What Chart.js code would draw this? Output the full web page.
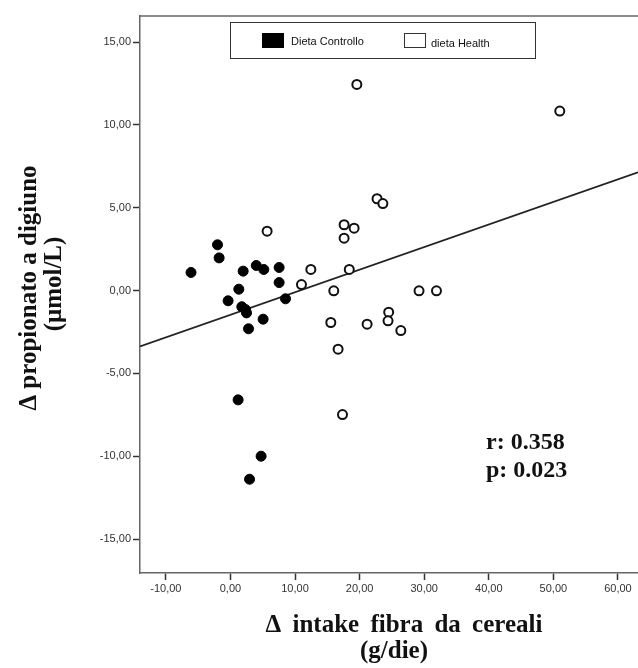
<!DOCTYPE html>
<html lang="it">
<head>
<meta charset="UTF-8">
<title>Propionato vs fibra</title>
<script src="https://cdn.jsdelivr.net/npm/chart.js@4"></script>
<style>
  body { margin: 0; background: #fff; }
  canvas { display: block; }
</style>
</head>
<body>
<canvas id="grafico" width="638" height="668"></canvas>
<script>
// valori
const serie = ['Dieta Controllo', 'dieta Health'];
const controlloX = [-6.1, -2.0, -1.75, 1.97, 4.0, 5.17, 7.54, 7.54, 1.3, -0.36, 8.53, 1.76, 2.33, 2.49, 5.06, 2.8, 1.19, 4.75, 2.96];
const controlloY = [1.09, 2.76, 1.97, 1.17, 1.51, 1.27, 1.39, 0.48, 0.08, -0.62, -0.5, -0.98, -1.15, -1.35, -1.73, -2.31, -6.6, -10.0, -11.39];
const healthX = [19.57, 50.99, 22.7, 23.6, 17.6, 19.15, 17.6, 12.45, 18.4, 11.0, 16.0, 29.2, 31.9, 24.5, 24.4, 15.54, 21.16, 26.38, 16.67, 17.35, 5.68];
const healthY = [12.44, 10.83, 5.54, 5.25, 3.97, 3.76, 3.16, 1.27, 1.27, 0.36, -0.02, -0.02, -0.02, -1.31, -1.83, -1.93, -2.03, -2.42, -3.54, -7.49, 3.58];
const rettaX = [-14.0, 63.1];
const rettaY = [-3.37, 7.14];
const xTicks = [-10, 0, 10, 20, 30, 40, 50, 60];
const yTicks = [-15, -10, -5, 0, 5, 10, 15];
const statistiche = ['r: 0.358', 'p: 0.023'];
const titoloX = ['\u0394 intake fibra da cereali', '(g/die)'];
const titoloY = ['\u0394 propionato a digiuno', '(\u03bcmol/L)'];

const punti = (xs, ys) => xs.map((x, i) => ({ x: x, y: ys[i] }));
const virgola = v => v.toFixed(2).replace('.', ',');

const testi = {
  id: 'testi',
  afterDraw(chart) {
    const ctx = chart.ctx;
    const area = chart.chartArea;
    ctx.save();

    // bordo superiore del riquadro
    ctx.strokeStyle = '#666';
    ctx.lineWidth = 1.5;
    ctx.beginPath();
    ctx.moveTo(area.left, area.top);
    ctx.lineTo(chart.width, area.top);
    ctx.stroke();

    // legenda
    ctx.fillStyle = '#fff';
    ctx.fillRect(230.5, 22.5, 305, 36);
    ctx.strokeStyle = '#333';
    ctx.lineWidth = 1;
    ctx.strokeRect(230.5, 22.5, 305, 36);
    ctx.fillStyle = '#000';
    ctx.fillRect(262, 33, 22, 15);
    ctx.strokeRect(404.5, 33.5, 21, 14);
    ctx.font = '11px "Liberation Sans", Arial, sans-serif';
    ctx.textBaseline = 'alphabetic';
    ctx.textAlign = 'left';
    ctx.fillStyle = '#111';
    ctx.fillText(serie[0], 291, 45);
    ctx.fillText(serie[1], 431, 47);

    // r e p
    ctx.font = 'bold 24px "Liberation Serif", "Times New Roman", serif';
    ctx.fillStyle = '#111';
    ctx.fillText(statistiche[0], 486, 449);
    ctx.fillText(statistiche[1], 486, 477);

    // titoli degli assi
    ctx.font = 'bold 25px "Liberation Serif", "Times New Roman", serif';
    ctx.textAlign = 'center';
    ctx.wordSpacing = '5px';
    ctx.fillText(titoloX[0], 404, 632);
    ctx.wordSpacing = '0px';
    ctx.fillText(titoloX[1], 394, 658);

    ctx.translate(0, 288);
    ctx.rotate(-Math.PI / 2);
    ctx.fillText(titoloY[0], 0, 36);
    ctx.fillText(titoloY[1], 4, 61);
    ctx.restore();
  }
};

new Chart(document.getElementById('grafico'), {
  type: 'scatter',
  data: {
    datasets: [
      {
        label: serie[0],
        data: punti(controlloX, controlloY),
        backgroundColor: '#000',
        borderColor: '#000',
        borderWidth: 1,
        pointRadius: 5,
        order: 1
      },
      {
        label: serie[1],
        data: punti(healthX, healthY),
        backgroundColor: '#fff',
        borderColor: '#111',
        borderWidth: 2,
        pointRadius: 4.5,
        order: 2
      },
      {
        type: 'line',
        label: 'retta',
        data: punti(rettaX, rettaY),
        borderColor: '#222',
        borderWidth: 1.8,
        pointRadius: 0,
        fill: false,
        order: 3
      }
    ]
  },
  options: {
    responsive: false,
    animation: false,
    layout: { autoPadding: false, padding: { top: 16, left: 0, right: 0, bottom: 0 } },
    plugins: {
      legend: { display: false },
      tooltip: { enabled: false }
    },
    scales: {
      x: {
        type: 'linear',
        min: -14.0,
        max: 63.1,
        afterFit: s => { s.height = 95; },
        afterBuildTicks: s => { s.ticks = xTicks.map(v => ({ value: v })); },
        border: { color: '#666', width: 1.5 },
        grid: { drawOnChartArea: false, tickLength: 7, tickColor: '#333', tickWidth: 1.5 },
        ticks: {
          padding: 2,
          color: '#333',
          font: { family: '"Liberation Sans", Arial, sans-serif', size: 11 },
          callback: v => virgola(v)
        }
      },
      y: {
        type: 'linear',
        min: -17.05,
        max: 16.57,
        afterFit: s => { s.width = 140; },
        afterBuildTicks: s => { s.ticks = yTicks.map(v => ({ value: v })); },
        border: { color: '#666', width: 1.5 },
        grid: { drawOnChartArea: false, tickLength: 7, tickColor: '#333', tickWidth: 1.5 },
        ticks: {
          padding: 2,
          color: '#333',
          font: { family: '"Liberation Sans", Arial, sans-serif', size: 11 },
          callback: v => virgola(v)
        }
      }
    }
  },
  plugins: [testi]
});
</script>
</body>
</html>
